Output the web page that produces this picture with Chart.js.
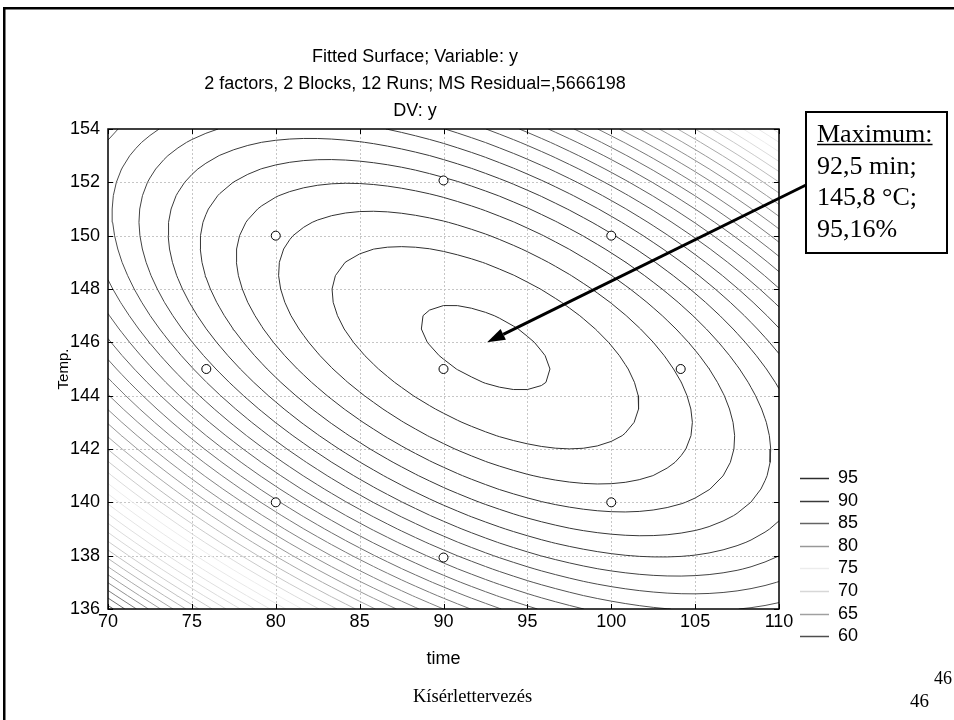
<!DOCTYPE html>
<html>
<head>
<meta charset="utf-8">
<script src="https://cdn.jsdelivr.net/npm/chart.js@4.4.0/dist/chart.umd.min.js"></script>
<style>
  html, body { margin: 0; padding: 0; background: #fff; }
  #wrap { position: relative; width: 954px; height: 720px; overflow: hidden; }
  canvas { position: absolute; left: 0; top: 0; }
</style>
</head>
<body>
<div id="wrap"><canvas id="surfaceChart" width="954" height="720"></canvas></div>
<script>
// axis ticks
const timeTicks = [70, 75, 80, 85, 90, 95, 100, 105, 110];
const tempTicks = [136, 138, 140, 142, 144, 146, 148, 150, 152, 154];

// design runs (central composite)
const runTime = [80, 100, 80, 100, 75.86, 104.14, 90, 90, 90];
const runTemp = [140, 140, 150, 150, 145, 145, 137.93, 152.07, 145];

// fitted quadratic surface as drawn: peak and curvature (time², temp², time·temp)
const surfaceCenter = [92.5, 145.8];
const surfaceMax = 95.22;
const surfaceCoef = [0.021, 0.122, 0.056];

// contour levels and legend
const contourLevels = [60, 61, 62, 63, 64, 65, 66, 67, 68, 69, 70, 71, 72, 73, 74, 75, 76, 77,
  78, 79, 80, 81, 82, 83, 84, 85, 86, 87, 88, 89, 90, 91, 92, 93, 94, 95];
const legendLevels = [95, 90, 85, 80, 75, 70, 65, 60];

const titleLines = ['Fitted Surface; Variable: y',
  '2 factors, 2 Blocks, 12 Runs; MS Residual=,5666198', 'DV: y'];
const boxLines = ['Maximum:', '92,5 min;', '145,8 °C;', '95,16%'];

// styles
const legendGray = [45, 58, 100, 152, 236, 215, 160, 78];
const SANS = 'Liberation Sans, Arial, sans-serif';
const SERIF = 'Liberation Serif, Times New Roman, serif';

function surface(t, T) {
  const dx = t - surfaceCenter[0], dy = T - surfaceCenter[1];
  return surfaceMax - (surfaceCoef[0] * dx * dx + surfaceCoef[1] * dy * dy + surfaceCoef[2] * dx * dy);
}

function grayFor(v) {
  for (let k = 0; k < legendLevels.length - 1; k++) {
    const hi = legendLevels[k], lo = legendLevels[k + 1];
    if (v <= hi && v >= lo) {
      const t = (hi - v) / (hi - lo);
      const g = Math.round(legendGray[k] + (legendGray[k + 1] - legendGray[k]) * t);
      return 'rgb(' + g + ',' + g + ',' + g + ')';
    }
  }
  const g = v > 95 ? legendGray[0] : legendGray[legendGray.length - 1];
  return 'rgb(' + g + ',' + g + ',' + g + ')';
}

// sample surface on a grid, then marching squares per level
const NX = 48, NY = 36;
const x0 = timeTicks[0], x1 = timeTicks[timeTicks.length - 1];
const y0 = tempTicks[0], y1 = tempTicks[tempTicks.length - 1];
const gx = [], gy = [], grid = [];
for (let i = 0; i <= NX; i++) gx.push(x0 + (x1 - x0) * i / NX);
for (let j = 0; j <= NY; j++) gy.push(y0 + (y1 - y0) * j / NY);
for (let j = 0; j <= NY; j++) {
  const row = [];
  for (let i = 0; i <= NX; i++) row.push(surface(gx[i], gy[j]));
  grid.push(row);
}

function contourData(L) {
  const pts = new Map();
  const segs = [];
  function edgePoint(key, xa, ya, va, xb, yb, vb) {
    if (!pts.has(key)) {
      const t = (L - va) / (vb - va);
      pts.set(key, { x: xa + (xb - xa) * t, y: ya + (yb - ya) * t });
    }
    return key;
  }
  for (let j = 0; j < NY; j++) {
    for (let i = 0; i < NX; i++) {
      const v0 = grid[j][i], v1 = grid[j][i + 1], v2 = grid[j + 1][i + 1], v3 = grid[j + 1][i];
      const c = (v0 > L ? 1 : 0) | (v1 > L ? 2 : 0) | (v2 > L ? 4 : 0) | (v3 > L ? 8 : 0);
      if (c === 0 || c === 15) continue;
      const e = [
        () => edgePoint('h' + i + '_' + j, gx[i], gy[j], v0, gx[i + 1], gy[j], v1),
        () => edgePoint('v' + (i + 1) + '_' + j, gx[i + 1], gy[j], v1, gx[i + 1], gy[j + 1], v2),
        () => edgePoint('h' + i + '_' + (j + 1), gx[i], gy[j + 1], v3, gx[i + 1], gy[j + 1], v2),
        () => edgePoint('v' + i + '_' + j, gx[i], gy[j], v0, gx[i], gy[j + 1], v3)
      ];
      const mid = (v0 + v1 + v2 + v3) / 4 > L;
      let pairs;
      switch (c) {
        case 1: case 14: pairs = [[3, 0]]; break;
        case 2: case 13: pairs = [[0, 1]]; break;
        case 3: case 12: pairs = [[3, 1]]; break;
        case 4: case 11: pairs = [[1, 2]]; break;
        case 6: case 9: pairs = [[0, 2]]; break;
        case 7: case 8: pairs = [[3, 2]]; break;
        case 5: pairs = mid ? [[0, 1], [2, 3]] : [[3, 0], [1, 2]]; break;
        case 10: pairs = mid ? [[3, 0], [1, 2]] : [[0, 1], [2, 3]]; break;
      }
      pairs.forEach(p => segs.push([e[p[0]](), e[p[1]]()]));
    }
  }
  // chain segments into polylines
  const adj = new Map();
  segs.forEach((s, k) => s.forEach(key => {
    if (!adj.has(key)) adj.set(key, []);
    adj.get(key).push(k);
  }));
  const used = new Array(segs.length).fill(false);
  const out = [];
  function walk(k, key) {
    out.push(pts.get(key));
    let cur = k;
    while (cur !== undefined && !used[cur]) {
      used[cur] = true;
      const s = segs[cur];
      key = s[0] === key ? s[1] : s[0];
      out.push(pts.get(key));
      cur = adj.get(key).find(m => !used[m]);
    }
    out.push({ x: NaN, y: NaN });
  }
  adj.forEach((list, key) => { if (list.length === 1 && !used[list[0]]) walk(list[0], key); });
  segs.forEach((s, k) => { if (!used[k]) walk(k, s[0]); });
  return out;
}

const datasets = [{
  label: 'runs',
  data: runTime.map((t, i) => ({ x: t, y: runTemp[i] })),
  showLine: false,
  pointRadius: 4.5,
  pointHoverRadius: 4.5,
  pointBackgroundColor: '#fff',
  pointBorderColor: '#000',
  pointBorderWidth: 1
}];
contourLevels.forEach(L => {
  datasets.push({
    label: String(L),
    data: contourData(L),
    showLine: true,
    spanGaps: false,
    tension: 0,
    pointRadius: 0,
    borderWidth: 1,
    borderColor: grayFor(L)
  });
});

const extras = {
  id: 'extras',
  beforeDatasetsDraw(chart) {
    const { ctx, chartArea: a, scales: { x, y } } = chart;
    ctx.save();
    ctx.strokeStyle = '#c6c6c6';
    ctx.lineWidth = 1;
    ctx.setLineDash([2, 2]);
    ctx.beginPath();
    timeTicks.slice(1, -1).forEach(v => {
      const px = Math.round(x.getPixelForValue(v)) + 0.5;
      ctx.moveTo(px, a.top); ctx.lineTo(px, a.bottom);
    });
    tempTicks.slice(1, -1).forEach(v => {
      const py = Math.round(y.getPixelForValue(v)) + 0.5;
      ctx.moveTo(a.left, py); ctx.lineTo(a.right, py);
    });
    ctx.stroke();
    ctx.restore();
  },
  afterDatasetsDraw(chart) {
    const { ctx, chartArea: a, scales: { x, y } } = chart;
    ctx.save();
    // plot frame and inner ticks
    ctx.strokeStyle = '#000';
    ctx.lineWidth = 1.5;
    ctx.strokeRect(a.left, a.top, a.right - a.left, a.bottom - a.top);
    ctx.lineWidth = 1;
    ctx.beginPath();
    timeTicks.forEach(v => {
      const px = Math.round(x.getPixelForValue(v)) + 0.5;
      ctx.moveTo(px, a.bottom); ctx.lineTo(px, a.bottom - 5);
      ctx.moveTo(px, a.top); ctx.lineTo(px, a.top + 5);
    });
    tempTicks.forEach(v => {
      const py = Math.round(y.getPixelForValue(v)) + 0.5;
      ctx.moveTo(a.left, py); ctx.lineTo(a.left + 5, py);
      ctx.moveTo(a.right, py); ctx.lineTo(a.right - 5, py);
    });
    ctx.stroke();

    // arrow from the annotation box to the maximum
    const tipX = x.getPixelForValue(92.6), tipY = y.getPixelForValue(146.0);
    const fromX = 806, fromY = 185;
    const ang = Math.atan2(tipY - fromY, tipX - fromX);
    const headLen = 18, headW = 6;
    const bx = tipX - headLen * Math.cos(ang), by = tipY - headLen * Math.sin(ang);
    ctx.strokeStyle = '#000';
    ctx.lineWidth = 3;
    ctx.beginPath();
    ctx.moveTo(fromX, fromY); ctx.lineTo(bx, by);
    ctx.stroke();
    ctx.fillStyle = '#000';
    ctx.beginPath();
    ctx.moveTo(tipX, tipY);
    ctx.lineTo(bx + headW * Math.sin(ang), by - headW * Math.cos(ang));
    ctx.lineTo(bx - headW * Math.sin(ang), by + headW * Math.cos(ang));
    ctx.closePath();
    ctx.fill();
    ctx.restore();
  },
  afterDraw(chart) {
    const { ctx } = chart;
    ctx.save();
    // slide frame
    ctx.fillStyle = '#000';
    ctx.fillRect(3, 7, 951, 2.5);
    ctx.fillRect(3, 7, 2.5, 713);

    // titles
    ctx.font = '18px ' + SANS;
    ctx.textAlign = 'center';
    ctx.textBaseline = 'middle';
    titleLines.forEach((t, i) => ctx.fillText(t, 415, 57 + i * 27));

    // legend
    ctx.textAlign = 'left';
    ctx.font = '18px ' + SANS;
    legendLevels.forEach((lv, i) => {
      const yy = 478 + i * 22.6;
      const g = legendGray[i];
      ctx.strokeStyle = 'rgb(' + g + ',' + g + ',' + g + ')';
      ctx.lineWidth = 1.5;
      ctx.beginPath();
      ctx.moveTo(800, Math.round(yy) + 0.5); ctx.lineTo(829, Math.round(yy) + 0.5);
      ctx.stroke();
      ctx.fillStyle = '#000';
      ctx.fillText(String(lv), 838, yy);
    });

    // annotation box
    ctx.fillStyle = '#fff';
    ctx.fillRect(806, 112, 141, 141);
    ctx.strokeStyle = '#000';
    ctx.lineWidth = 2;
    ctx.strokeRect(806, 112, 141, 141);
    ctx.fillStyle = '#000';
    ctx.font = '26px ' + SERIF;
    ctx.textBaseline = 'alphabetic';
    const base = [141.5, 173.5, 205, 237];
    boxLines.forEach((t, i) => ctx.fillText(t, 817, base[i]));
    const w = ctx.measureText(boxLines[0]).width;
    ctx.lineWidth = 1.3;
    ctx.beginPath();
    ctx.moveTo(817, 144.5); ctx.lineTo(817 + w, 144.5);
    ctx.stroke();

    // footer
    ctx.font = '18.5px ' + SERIF;
    ctx.fillText('Kísérlettervezés', 413, 702);
    ctx.font = '19px ' + SERIF;
    ctx.fillText('46', 910, 707);
    ctx.font = '18px ' + SERIF;
    ctx.fillText('46', 934, 684);
    ctx.restore();
  }
};

const tickFont = { family: SANS, size: 18 };
new Chart(document.getElementById('surfaceChart').getContext('2d'), {
  type: 'scatter',
  data: { datasets: datasets },
  options: {
    responsive: false,
    animation: false,
    devicePixelRatio: 1,
    layout: { padding: { left: 0, top: 129, right: 175, bottom: 0 } },
    plugins: { legend: { display: false }, title: { display: false }, tooltip: { enabled: false } },
    events: [],
    scales: {
      x: {
        type: 'linear', min: 70, max: 110,
        afterBuildTicks: s => { s.ticks = timeTicks.map(v => ({ value: v })); },
        afterFit: s => { s.height = 111; },
        grid: { display: false, drawTicks: false },
        border: { display: false },
        ticks: { font: tickFont, color: '#000', padding: 2, maxRotation: 0, autoSkip: false },
        title: { display: true, text: 'time', font: tickFont, color: '#000', padding: { top: 0, bottom: 50 } }
      },
      y: {
        type: 'linear', min: 136, max: 154,
        afterBuildTicks: s => { s.ticks = tempTicks.map(v => ({ value: v })); },
        afterFit: s => { s.width = 108; },
        grid: { display: false, drawTicks: false },
        border: { display: false },
        ticks: { font: tickFont, color: '#000', padding: 8, autoSkip: false },
        title: { display: true, text: 'Temp.', font: { family: SANS, size: 15 }, color: '#000', padding: { top: 55, bottom: 0 } }
      }
    }
  },
  plugins: [extras]
});
</script>
</body>
</html>
